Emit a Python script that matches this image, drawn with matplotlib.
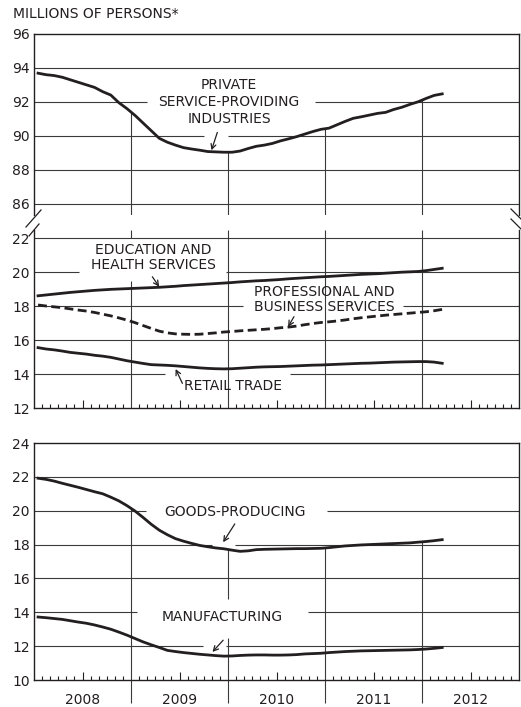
import numpy as np
import pandas as pd
import matplotlib
matplotlib.use("Agg")
import matplotlib.pyplot as plt
from matplotlib.lines import Line2D

# monthly data, Jan 2008 - Mar 2012, millions of persons
months = pd.date_range("2008-01-01", "2012-03-01", freq="MS")

private_services = [93.69, 93.60, 93.55, 93.45, 93.30, 93.15, 93.00, 92.85, 92.60, 92.40,
                    91.95, 91.60, 91.20, 90.75, 90.30, 89.85, 89.62, 89.45, 89.30, 89.22,
                    89.15, 89.07, 89.05, 89.03, 89.03, 89.10, 89.25, 89.38, 89.45, 89.55,
                    89.70, 89.82, 89.95, 90.10, 90.25, 90.38, 90.45, 90.65, 90.85, 91.03,
                    91.12, 91.22, 91.32, 91.38, 91.55, 91.68, 91.85, 92.00, 92.20, 92.38,
                    92.47]
education_health = [18.60, 18.65, 18.70, 18.75, 18.80, 18.84, 18.88, 18.92, 18.95, 18.98,
                    19.00, 19.02, 19.04, 19.06, 19.08, 19.10, 19.13, 19.16, 19.20, 19.23,
                    19.26, 19.29, 19.32, 19.35, 19.38, 19.42, 19.45, 19.48, 19.50, 19.53,
                    19.56, 19.60, 19.63, 19.66, 19.69, 19.72, 19.74, 19.77, 19.80, 19.83,
                    19.86, 19.88, 19.90, 19.93, 19.96, 19.99, 20.01, 20.03, 20.08, 20.15,
                    20.22]
prof_business = [18.06, 18.00, 17.95, 17.90, 17.83, 17.76, 17.70, 17.62, 17.52, 17.42,
                 17.30, 17.17, 17.02, 16.85, 16.68, 16.52, 16.42, 16.36, 16.34, 16.33,
                 16.34, 16.38, 16.42, 16.47, 16.50, 16.54, 16.57, 16.60, 16.63, 16.67,
                 16.72, 16.76, 16.82, 16.90, 16.97, 17.03, 17.07, 17.12, 17.18, 17.25,
                 17.31, 17.36, 17.41, 17.46, 17.50, 17.54, 17.58, 17.62, 17.66, 17.72,
                 17.80]
retail_trade = [15.55, 15.47, 15.42, 15.35, 15.27, 15.22, 15.17, 15.10, 15.05, 14.98,
                14.88, 14.78, 14.70, 14.62, 14.55, 14.53, 14.51, 14.48, 14.44, 14.40,
                14.36, 14.33, 14.31, 14.30, 14.31, 14.34, 14.37, 14.40, 14.42, 14.43,
                14.44, 14.46, 14.48, 14.50, 14.52, 14.53, 14.55, 14.57, 14.59, 14.61,
                14.63, 14.64, 14.66, 14.68, 14.70, 14.71, 14.72, 14.73, 14.73, 14.70,
                14.63]
goods_producing = [21.92, 21.85, 21.75, 21.62, 21.50, 21.38, 21.25, 21.12, 21.00, 20.80,
                   20.58, 20.30, 19.98, 19.60, 19.20, 18.85, 18.58, 18.35, 18.20, 18.07,
                   17.95, 17.87, 17.80, 17.75, 17.67, 17.60, 17.63, 17.70, 17.72, 17.73,
                   17.74, 17.75, 17.76, 17.76, 17.77, 17.78, 17.82, 17.87, 17.92, 17.95,
                   17.98, 18.00, 18.02, 18.04, 18.06, 18.08, 18.10, 18.14, 18.18, 18.23,
                   18.29]
manufacturing = [13.72, 13.68, 13.63, 13.58, 13.50, 13.42, 13.35, 13.25, 13.13, 13.00,
                 12.83, 12.65, 12.45, 12.25, 12.08, 11.92, 11.75, 11.68, 11.62, 11.57,
                 11.52, 11.48, 11.44, 11.41, 11.42, 11.45, 11.47, 11.48, 11.48, 11.47,
                 11.47, 11.48, 11.50, 11.54, 11.56, 11.58, 11.62, 11.65, 11.68, 11.70,
                 11.72, 11.73, 11.74, 11.75, 11.76, 11.77, 11.78, 11.80, 11.83, 11.87,
                 11.92]

year_labels = ["2008", "2009", "2010", "2011", "2012"]

# x as fractional years, each point at mid-month
x = months.year + (months.month - 0.5) / 12.0

ink = "#231f20"
grid_c = "#3a3a3a"
plt.rcParams["font.family"] = "DejaVu Sans"
plt.rcParams["font.size"] = 10

fig = plt.figure(figsize=(5.21, 7.07), dpi=100)
W, H = 521, 707


def px_axes(left, top, right, bottom):
    return fig.add_axes([left / W, 1 - bottom / H, (right - left) / W, (bottom - top) / H])


ax_hi = px_axes(34, 34, 519, 215.5)
ax_lo = px_axes(34, 229.5, 519, 408)
ax_bt = px_axes(34, 443, 519, 680)

ax_hi.set_ylim(85.3, 96)
ax_lo.set_ylim(12, 22.5)
ax_bt.set_ylim(10, 24)

for ax in (ax_hi, ax_lo, ax_bt):
    ax.set_xlim(2008, 2013)
    for s in ax.spines.values():
        s.set_color(ink)
        s.set_linewidth(1.0)
    ax.tick_params(axis="y", length=0, pad=3, labelcolor=ink, labelsize=10)
ax_hi.spines["bottom"].set_visible(False)
ax_lo.spines["top"].set_visible(False)
ax_hi.set_yticks(range(86, 97, 2))
ax_lo.set_yticks(range(12, 23, 2))
ax_bt.set_yticks(range(10, 25, 2))
ax_hi.set_xticks([])

# month ticks pointing inward, longer at mid-year
month_ticks = [2008 + m / 12 for m in range(1, 60) if m % 12 != 0]
for ax in (ax_lo, ax_bt):
    ax.set_xticks([t for t in month_ticks if abs(t % 1 - 0.5) > 0.01], minor=True)
    ax.set_xticks([2008.5, 2009.5, 2010.5, 2011.5, 2012.5])
    ax.tick_params(axis="x", which="minor", direction="in", length=3, width=0.8, color=ink)
    ax.tick_params(axis="x", which="major", direction="in", length=5.5, width=0.8, color=ink)
ax_lo.set_xticklabels([])
ax_bt.set_xticklabels(year_labels)
ax_bt.tick_params(axis="x", which="major", pad=9, labelcolor=ink, labelsize=10)


def hgrid(ax, y, gaps=()):
    # horizontal rule across the axes, broken where labels sit
    start = 2008
    for a, b in gaps:
        ax.hlines(y, start, a, color=grid_c, lw=0.8, zorder=1)
        start = b
    ax.hlines(y, start, 2013, color=grid_c, lw=0.8, zorder=1)


hgrid(ax_hi, 94)
hgrid(ax_hi, 92, [(2009.16, 2010.90)])
hgrid(ax_hi, 90, [(2009.75, 2010.0)])
hgrid(ax_hi, 88)
hgrid(ax_hi, 86)

hgrid(ax_lo, 22)
hgrid(ax_lo, 20, [(2008.46, 2009.98)])
hgrid(ax_lo, 18, [(2010.15, 2011.80)])
hgrid(ax_lo, 16)
hgrid(ax_lo, 14, [(2009.35, 2010.64)])

hgrid(ax_bt, 22)
hgrid(ax_bt, 20, [(2009.15, 2011.02)])
hgrid(ax_bt, 18, [(2009.84, 2010.07)])
hgrid(ax_bt, 16)
hgrid(ax_bt, 14, [(2009.06, 2010.82)])
hgrid(ax_bt, 12, [(2009.74, 2009.98)])

# year dividers: they hang down from the top curve of each block
for yr in (2009, 2010, 2011, 2012):
    ax_hi.vlines(yr, 85.3, np.interp(yr, x, private_services), color=grid_c, lw=0.8, zorder=1)
ax_lo.vlines(2009, 22, 22.5, color=grid_c, lw=0.8, zorder=1)
ax_lo.vlines(2009, 12, 19.45, color=grid_c, lw=0.8, zorder=1)
for yr in (2010, 2011, 2012):
    ax_lo.vlines(yr, 12, 22.5, color=grid_c, lw=0.8, zorder=1)
for yr in (2009, 2010, 2011, 2012):
    top = np.interp(yr, x, goods_producing)
    if yr == 2010:
        ax_bt.vlines(yr, 8.65, 12.5, color=grid_c, lw=0.8, zorder=1, clip_on=False)
        ax_bt.vlines(yr, 14.8, top, color=grid_c, lw=0.8, zorder=1)
    else:
        ax_bt.vlines(yr, 8.65, top, color=grid_c, lw=0.8, zorder=1, clip_on=False)

# series
lw = 2.0
ax_hi.plot(x, private_services, color=ink, lw=lw, zorder=3)
ax_lo.plot(x, education_health, color=ink, lw=lw, zorder=3)
ax_lo.plot(x, prof_business, color=ink, lw=lw, ls=(0, (3.2, 1.6)), zorder=3)
ax_lo.plot(x, retail_trade, color=ink, lw=lw, zorder=3)
ax_bt.plot(x, goods_producing, color=ink, lw=lw, zorder=3)
ax_bt.plot(x, manufacturing, color=ink, lw=lw, zorder=3)

arrow = dict(arrowstyle="->,head_length=0.35,head_width=0.18", color=ink, lw=0.9,
             shrinkA=0, shrinkB=0)


def label(ax, text, xy_text, tail, tip, spacing=1.15):
    ax.text(*xy_text, text, ha="center", va="center", color=ink, fontsize=10,
            linespacing=spacing, zorder=4)
    ax.annotate("", xy=tip, xytext=tail, arrowprops=arrow, zorder=4)


label(ax_hi, "PRIVATE\nSERVICE-PROVIDING\nINDUSTRIES", (2010.01, 92.0),
      (2009.89, 90.2), (2009.83, 89.15), spacing=1.25)
label(ax_lo, "EDUCATION AND\nHEALTH SERVICES", (2009.23, 20.85),
      (2009.22, 19.72), (2009.29, 19.14))
label(ax_lo, "PROFESSIONAL AND\nBUSINESS SERVICES", (2010.99, 18.38),
      (2010.68, 17.37), (2010.62, 16.78))
label(ax_lo, "RETAIL TRADE", (2010.05, 13.31),
      (2009.53, 13.45), (2009.46, 14.29))
label(ax_bt, "GOODS-PRODUCING", (2010.07, 19.95),
      (2010.07, 19.22), (2009.95, 18.14))
label(ax_bt, "MANUFACTURING", (2009.94, 13.75),
      (2009.95, 12.35), (2009.84, 11.66))

fig.text(13 / W, 1 - 14 / H, "MILLIONS OF PERSONS*", ha="left", va="center",
         color=ink, fontsize=10)

# axis break marks, drawn in pixel space
for (x0, y0, x1, y1) in [(26, 227, 41, 210), (29, 236, 39, 224),
                         (511, 209, 521, 219), (511, 219, 521, 229)]:
    fig.add_artist(Line2D([x0 / W, x1 / W], [1 - y0 / H, 1 - y1 / H],
                          transform=fig.transFigure, color=ink, lw=0.9))

fig.savefig("out.png", dpi=100)
